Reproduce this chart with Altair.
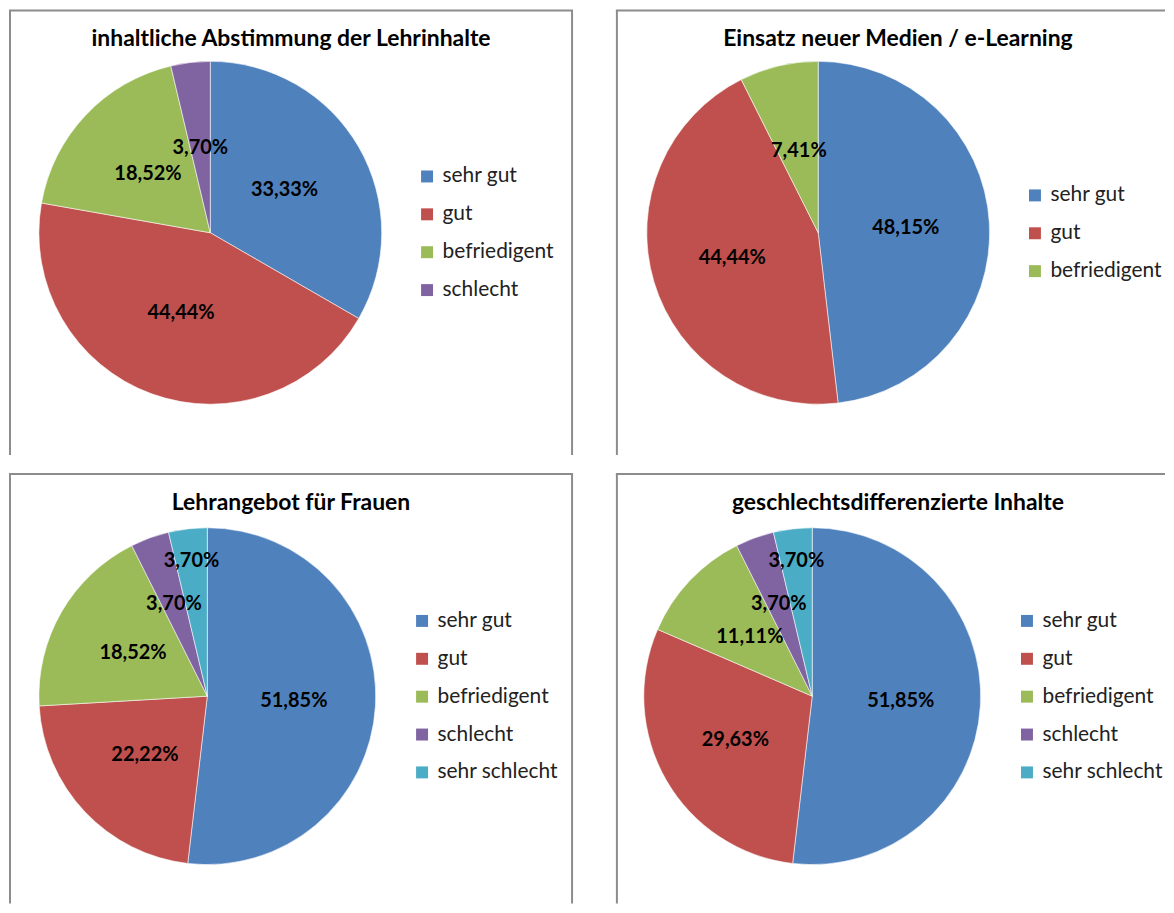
import altair as alt
import pandas as pd

# ---------------- data ----------------
TITLES = [
    "inhaltliche Abstimmung der Lehrinhalte",
    "Einsatz neuer Medien / e-Learning",
    "Lehrangebot für Frauen",
    "geschlechtsdifferenzierte Inhalte",
]
CATEGORIES = ["sehr gut", "gut", "befriedigent", "schlecht", "sehr schlecht"]
VALUES_1 = [33.33, 44.44, 18.52, 3.70]
VALUES_2 = [48.15, 44.44, 7.41]
VALUES_3 = [51.85, 22.22, 18.52, 3.70, 3.70]
VALUES_4 = [51.85, 29.63, 11.11, 3.70, 3.70]
VALUES = [VALUES_1, VALUES_2, VALUES_3, VALUES_4]

# ---------------- style / layout ----------------
COLORS = ["#4F81BD", "#C0504D", "#9BBB59", "#8064A2", "#4BACC6"]
FRAME_COLOR = "#8c8c8c"
FONT = "Lato"
PANEL_W = [566, 551, 566, 551]
PANEL_H = [465, 465, 432, 432]
FRAME_BOTTOM = [447, 447, 432, 432]
RIGHT_FRAME = [True, False, True, False]
CENTER = [(202, 224), (203, 224), (199, 224), (197, 224)]
PIE_R = [172, 172, 169, 169]
LEGEND_XY = [(409, 157), (410, 176), (404, 138), (402, 138)]
LABEL_R = [[86, 86, 86, 86], [88, 90, 84], [87, 86, 86, 98, 137], [89, 89, 86, 98, 137]]


def fmt(v):
    return f"{v:.2f}".replace(".", ",") + "%"


def panel(i):
    vals = VALUES[i]
    n = len(vals)
    cats = CATEGORIES[:n]
    df = pd.DataFrame({
        "cat": cats,
        "value": vals,
        "ord": list(range(n)),
        "label": [fmt(v) for v in vals],
        "lr": LABEL_R[i],
    })
    W, H = PANEL_W[i], PANEL_H[i]
    cx, cy = CENTER[i]
    lx, ly = LEGEND_XY[i]
    arcs = alt.Chart(df).mark_arc(outerRadius=PIE_R[i], stroke="white", strokeWidth=0.8,
                                  strokeOpacity=0.7).encode(
        theta=alt.Theta("value:Q", stack=True),
        order=alt.Order("ord:Q"),
        x=alt.value(cx), y=alt.value(cy),
        color=alt.Color(
            "cat:N",
            sort=cats,
            scale=alt.Scale(domain=cats, range=COLORS[:n]),
            legend=alt.Legend(
                title=None, orient="none", legendX=lx, legendY=ly,
                symbolType="square", symbolSize=144, symbolStrokeWidth=0,
                labelFont=FONT, labelFontSize=21, labelColor="#222222",
                labelOffset=5, rowPadding=16, padding=0,
            ),
        ),
    )
    texts = alt.Chart(df).transform_window(
        cum="sum(value)", sort=[alt.SortField("ord")], frame=[None, 0]
    ).transform_joinaggregate(
        total="sum(value)"
    ).transform_calculate(
        ang="(datum.cum - datum.value / 2) / datum.total * 2 * PI"
    ).mark_text(font=FONT, fontSize=20, fontWeight="bold", color="black",
                align="center", baseline="middle").encode(
        x=alt.value(cx), y=alt.value(cy),
        theta=alt.Theta("ang:Q", scale=None, stack=False),
        radius=alt.Radius("lr:Q", scale=None),
        text="label:N",
    )
    title = alt.Chart(pd.DataFrame({"t": [TITLES[i]]})).mark_text(
        font=FONT, fontSize=23, fontWeight="bold", color="black",
        align="center", baseline="middle",
    ).encode(x=alt.value(283), y=alt.value(30), text="t:N")

    one = pd.DataFrame({"k": [0]})
    rule = alt.Chart(one).mark_rule(color=FRAME_COLOR, strokeWidth=2)
    layers = [
        rule.encode(x=alt.value(1), y=alt.value(1), y2=alt.value(FRAME_BOTTOM[i])),
        rule.encode(x=alt.value(0), x2=alt.value(W), y=alt.value(1)),
    ]
    if RIGHT_FRAME[i]:
        layers.append(rule.encode(x=alt.value(W - 1), y=alt.value(1), y2=alt.value(FRAME_BOTTOM[i])))
    return alt.layer(arcs, texts, title, *layers).resolve_scale(
        theta="independent", radius="independent"
    ).properties(width=W, height=H)


top = alt.hconcat(panel(0), panel(1), spacing=41).resolve_scale(color="independent", theta="independent")
bottom = alt.hconcat(panel(2), panel(3), spacing=41).resolve_scale(color="independent", theta="independent")
chart = alt.vconcat(top, bottom, spacing=0).resolve_scale(
    color="independent", theta="independent"
).properties(padding=0).configure_view(strokeWidth=0)

chart.save("out.html", embed_options={"renderer": "svg", "actions": False})
